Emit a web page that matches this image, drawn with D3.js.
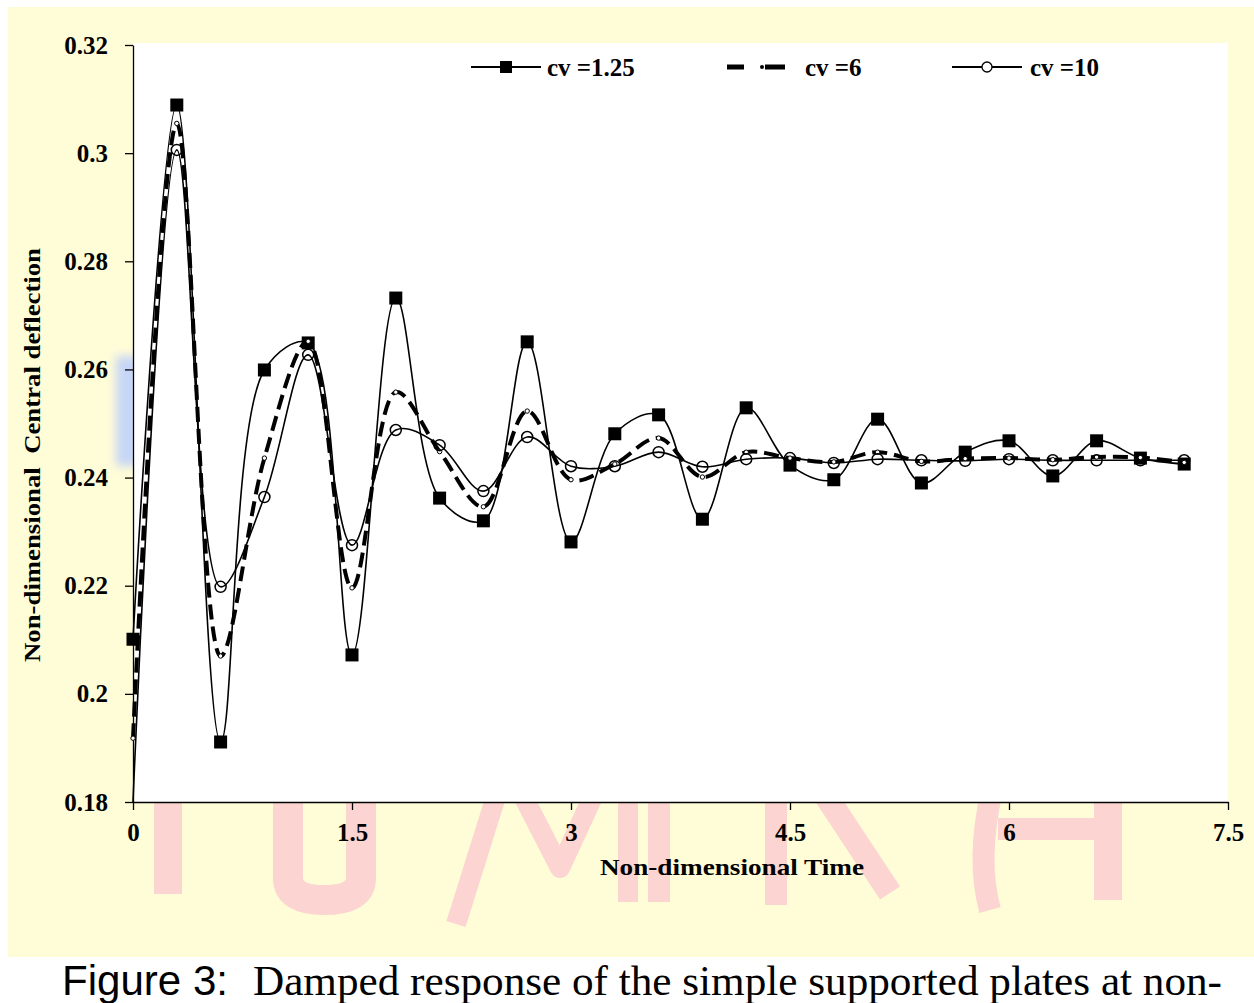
<!DOCTYPE html>
<html>
<head>
<meta charset="utf-8">
<script src="https://cdnjs.cloudflare.com/ajax/libs/d3/7.8.5/d3.min.js"></script>
<style>
  body { margin: 0; background: #ffffff; }
  svg { display: block; }
</style>
</head>
<body>
<svg id="chart" width="1254" height="1003"></svg>
<script>
// data
let times = [0, 0.3, 0.6, 0.9, 1.2, 1.5, 1.8, 2.1, 2.4, 2.7, 3.0, 3.3, 3.6, 3.9, 4.2, 4.5, 4.8, 5.1, 5.4, 5.7, 6.0, 6.3, 6.6, 6.9, 7.2];
let cv125 = [0.2101, 0.3089, 0.1911, 0.2599, 0.2649, 0.2072, 0.2732, 0.2362, 0.2320, 0.2651, 0.2281, 0.2481, 0.2516, 0.2323, 0.2529, 0.2423, 0.2396, 0.2508, 0.2390, 0.2447, 0.2468, 0.2403, 0.2468, 0.2436, 0.2425];
let cv6 = [0.1918, 0.3055, 0.2070, 0.2436, 0.2652, 0.2196, 0.2558, 0.2448, 0.2346, 0.2523, 0.2396, 0.2425, 0.2473, 0.2401, 0.2447, 0.2436, 0.2429, 0.2447, 0.2430, 0.2435, 0.2436, 0.2433, 0.2438, 0.2437, 0.2428];
let cv10 = [0.1800, 0.3006, 0.2198, 0.2364, 0.2627, 0.2275, 0.2488, 0.2460, 0.2375, 0.2475, 0.2421, 0.2421, 0.2447, 0.2420, 0.2434, 0.2436, 0.2427, 0.2434, 0.2432, 0.2431, 0.2434, 0.2432, 0.2432, 0.2432, 0.2432];
let seriesNames = ["cv =1.25", "cv =6", "cv =10"];
let yTicks = [0.18, 0.2, 0.22, 0.24, 0.26, 0.28, 0.3, 0.32];
let yTickLabels = ["0.18", "0.2", "0.22", "0.24", "0.26", "0.28", "0.3", "0.32"];
let xTicks = [0, 1.5, 3, 4.5, 6, 7.5];
let xTickLabels = ["0", "1.5", "3", "4.5", "6", "7.5"];

drawChart();

function drawChart() {
  let svg = d3.select("#chart");
  let leftMargin = 133,
    topMargin = 45,
    plotRight = 1228,
    plotBottom = 802;
  let serif = "'Liberation Serif', 'Times New Roman', serif";

  let defs = svg.append("defs");
  defs.append("filter").attr("id", "soft")
    .attr("x", "-50%").attr("y", "-50%").attr("width", "200%").attr("height", "200%")
    .append("feGaussianBlur").attr("stdDeviation", 5);

  // slide background
  svg.append("rect")
    .attr("x", 8).attr("y", 7)
    .attr("width", 1246).attr("height", 950)
    .attr("fill", "#fffcd8");

  // faint watermark behind the plot
  let mark = svg.append("g")
    .attr("fill", "none")
    .attr("stroke", "#fcd4d1")
    .attr("stroke-linejoin", "round");
  let strokes = [
    ["M168,790 L168,894", 28],
    ["M288,790 L288,878 Q288,900 324,900 Q361,900 361,878 L361,790", 30],
    ["M498,790 L456,924", 20],
    ["M520,790 L560,868 L596,790", 20],
    ["M628,790 L628,902", 20],
    ["M659,790 L659,902", 22],
    ["M776,790 L776,905", 22],
    ["M822,790 L890,893", 24],
    ["M992,790 Q976,860 990,910", 22],
    ["M998,829 L1105,829", 22],
    ["M1108,790 L1108,900", 28]
  ];
  strokes.forEach((s) => {
    mark.append("path").attr("d", s[0]).attr("stroke-width", s[1]);
  });

  // bluish glow at the left of the plot
  svg.append("rect")
    .attr("x", 116).attr("y", 356)
    .attr("width", 24).attr("height", 110)
    .attr("fill", "#c6d6f6")
    .attr("filter", "url(#soft)");

  // white plot area
  svg.append("rect")
    .attr("x", leftMargin).attr("y", topMargin - 2)
    .attr("width", plotRight - leftMargin).attr("height", plotBottom - topMargin + 2)
    .attr("fill", "#ffffff");

  let xScale = d3.scaleLinear().domain([0, 7.5]).range([leftMargin, plotRight]);
  let yScale = d3.scaleLinear().domain([0.18, 0.32]).range([plotBottom, topMargin]);

  let xAxis = d3.axisBottom(xScale)
    .tickValues(xTicks)
    .tickFormat((d, i) => xTickLabels[i])
    .tickSize(8)
    .tickSizeOuter(0)
    .tickPadding(13);
  let yAxis = d3.axisLeft(yScale)
    .tickValues(yTicks)
    .tickFormat((d, i) => yTickLabels[i])
    .tickSize(8)
    .tickSizeOuter(0)
    .tickPadding(17);

  let gx = svg.append("g")
    .attr("transform", `translate(0,${plotBottom})`)
    .call(xAxis);
  let gy = svg.append("g")
    .attr("transform", `translate(${leftMargin},0)`)
    .call(yAxis);
  [gx, gy].forEach((g) => {
    g.select(".domain").attr("stroke", "#000").attr("stroke-width", 1.3);
    g.selectAll(".tick line").attr("stroke", "#000").attr("stroke-width", 1.3);
    g.selectAll(".tick text")
      .attr("fill", "#000")
      .style("font-family", serif)
      .style("font-weight", "bold")
      .style("font-size", "25px");
  });

  // axis titles
  svg.append("text")
    .attr("x", 732).attr("y", 875)
    .attr("text-anchor", "middle")
    .attr("textLength", 264)
    .attr("lengthAdjust", "spacingAndGlyphs")
    .style("font-family", serif)
    .style("font-weight", "bold")
    .style("font-size", "23px")
    .text("Non-dimensional Time");

  svg.append("text")
    .attr("transform", "translate(40,455) rotate(-90)")
    .attr("text-anchor", "middle")
    .attr("textLength", 414)
    .attr("lengthAdjust", "spacingAndGlyphs")
    .style("font-family", serif)
    .style("font-weight", "bold")
    .style("font-size", "23px")
    .style("white-space", "pre")
    .text("Non-dimensional  Central deflection");

  let rows = times.map((t, i) => ({ t: t, a: cv125[i], b: cv6[i], c: cv10[i] }));

  function smooth(key) {
    return d3.line()
      .x((d) => xScale(d.t))
      .y((d) => yScale(d[key]))
      .curve(d3.curveCatmullRom.alpha(0.5));
  }

  let plot = svg.append("g");

  // cv = 1.25 : thin solid with filled squares
  plot.append("path")
    .datum(rows)
    .attr("d", smooth("a"))
    .attr("fill", "none")
    .attr("stroke", "#000")
    .attr("stroke-width", 1.6);

  // cv = 6 : heavy dashes
  plot.append("path")
    .datum(rows)
    .attr("d", smooth("b"))
    .attr("fill", "none")
    .attr("stroke", "#000")
    .attr("stroke-width", 4)
    .attr("stroke-dasharray", "15,7");

  // cv = 10 : thin solid with open circles
  plot.append("path")
    .datum(rows)
    .attr("d", smooth("c"))
    .attr("fill", "none")
    .attr("stroke", "#000")
    .attr("stroke-width", 1.6);

  plot.selectAll(".sq")
    .data(rows)
    .enter()
    .append("rect")
    .attr("class", "sq")
    .attr("x", (d) => xScale(d.t) - 6.5)
    .attr("y", (d) => yScale(d.a) - 6.5)
    .attr("width", 13)
    .attr("height", 13)
    .attr("fill", "#000");

  plot.selectAll(".dot6")
    .data(rows)
    .enter()
    .append("circle")
    .attr("class", "dot6")
    .attr("cx", (d) => xScale(d.t))
    .attr("cy", (d) => yScale(d.b))
    .attr("r", 2.2)
    .attr("fill", "#fff")
    .attr("stroke", "#000")
    .attr("stroke-width", 1);

  // the marker sitting on the axis corner is hidden in the original
  plot.selectAll(".ring")
    .data(rows.filter((d) => d.c > yScale.domain()[0]))
    .enter()
    .append("circle")
    .attr("class", "ring")
    .attr("cx", (d) => xScale(d.t))
    .attr("cy", (d) => yScale(d.c))
    .attr("r", 5.5)
    .attr("fill", "none")
    .attr("stroke", "#000")
    .attr("stroke-width", 1.5);

  // legend
  let legendX = [471, 727, 952];
  let legend = svg.append("g");
  let ly = 67;
  let labelStyle = (sel) => sel
    .style("font-family", serif)
    .style("font-weight", "bold")
    .style("font-size", "25px");

  legend.append("line")
    .attr("x1", legendX[0]).attr("x2", legendX[0] + 70)
    .attr("y1", ly).attr("y2", ly)
    .attr("stroke", "#000").attr("stroke-width", 2);
  legend.append("rect")
    .attr("x", legendX[0] + 35 - 6).attr("y", ly - 6)
    .attr("width", 12).attr("height", 12)
    .attr("fill", "#000");
  legend.append("text")
    .attr("x", legendX[0] + 76).attr("y", ly + 9)
    .text(seriesNames[0])
    .call(labelStyle);

  legend.append("line")
    .attr("x1", legendX[1]).attr("x2", legendX[1] + 58)
    .attr("y1", ly).attr("y2", ly)
    .attr("stroke", "#000").attr("stroke-width", 5)
    .attr("stroke-dasharray", "17,21,20");
  legend.append("circle")
    .attr("cx", legendX[1] + 35).attr("cy", ly)
    .attr("r", 2).attr("fill", "#000");
  legend.append("text")
    .attr("x", legendX[1] + 78).attr("y", ly + 9)
    .text(seriesNames[1])
    .call(labelStyle);

  legend.append("line")
    .attr("x1", legendX[2]).attr("x2", legendX[2] + 70)
    .attr("y1", ly).attr("y2", ly)
    .attr("stroke", "#000").attr("stroke-width", 2);
  legend.append("circle")
    .attr("cx", legendX[2] + 35).attr("cy", ly)
    .attr("r", 5).attr("fill", "#fff")
    .attr("stroke", "#000").attr("stroke-width", 1.3);
  legend.append("text")
    .attr("x", legendX[2] + 78).attr("y", ly + 9)
    .text(seriesNames[2])
    .call(labelStyle);

  // caption under the slide
  svg.append("text")
    .attr("x", 62).attr("y", 995)
    .attr("textLength", 166)
    .attr("lengthAdjust", "spacingAndGlyphs")
    .style("font-family", "'Liberation Sans', Arial, sans-serif")
    .style("font-size", "42px")
    .text("Figure 3:");
  svg.append("text")
    .attr("x", 253).attr("y", 995)
    .attr("textLength", 969)
    .attr("lengthAdjust", "spacingAndGlyphs")
    .style("font-family", serif)
    .style("font-size", "42px")
    .text("Damped response of the simple supported plates at non-");
}
</script>
</body>
</html>
